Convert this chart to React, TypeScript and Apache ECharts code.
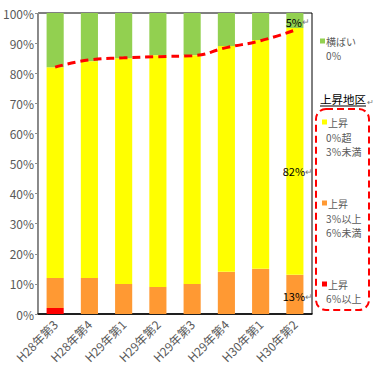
import React, { useEffect, useRef } from "react";
import * as echarts from "echarts";

const categories = ["H28年第3", "H28年第4", "H29年第1", "H29年第2", "H29年第3", "H29年第4", "H30年第1", "H30年第2"];
const up6Plus = [2, 0, 0, 0, 0, 0, 0, 0];
const up3to6 = [10, 12, 10, 9, 10, 14, 15, 13];
const up0to3 = [70, 72, 75, 77, 76, 75, 76, 82];
const flat = [18, 16, 15, 14, 14, 11, 9, 5];
const trendLine = [82, 84.4, 85.1, 85.5, 85.8, 88.5, 90.8, 94.3];
const yTicks = { min: 0, max: 100, interval: 10 };

const FONT = "'Noto Sans CJK JP', 'Noto Sans', sans-serif";
const GRAY = "#595959";

function lastLabel(dy: number) {
  return {
    show: true,
    position: "inside" as const,
    offset: [3, dy],
    formatter: (p: any) => (p.dataIndex === categories.length - 1 ? `{v|${p.value}%}{a|↵}` : ""),
    rich: {
      v: { fontSize: 11, color: "#000", fontFamily: FONT },
      a: { fontSize: 9, color: "#777", fontFamily: FONT },
    },
  };
}

export default function App() {
  const ref = useRef<HTMLDivElement>(null);
  useEffect(() => {
    document.body.style.margin = "0";
    const chart = echarts.init(ref.current!, null, { renderer: "svg" });
    const txt = (x: number, y: number, text: string, extra: any = {}) => ({
      type: "text",
      x,
      y,
      style: { text, fill: GRAY, fontSize: 10, fontFamily: FONT, textVerticalAlign: "middle", ...extra },
    });
    const sq = (x: number, y: number, color: string) => ({
      type: "rect",
      shape: { x, y: y - 2.5, width: 5, height: 5 },
      style: { fill: color },
    });
    chart.setOption({
      animation: false,
      grid: { left: 35, top: 13, right: 69, bottom: 73, show: true, borderColor: "#000", borderWidth: 1, backgroundColor: "transparent" },
      xAxis: {
        type: "category",
        data: categories,
        axisLine: { lineStyle: { color: "#000", width: 1.5 } },
        axisTick: { show: false },
        axisLabel: { rotate: 45, interval: 0, color: GRAY, fontSize: 12, fontFamily: FONT, margin: 8 },
      },
      yAxis: {
        type: "value",
        min: yTicks.min,
        max: yTicks.max,
        interval: yTicks.interval,
        axisLine: { show: true, lineStyle: { color: "#8c8c8c" } },
        axisTick: { show: true, length: 3, lineStyle: { color: "#8c8c8c" } },
        splitLine: { show: false },
        axisLabel: { formatter: "{value}%", color: GRAY, fontSize: 12, fontFamily: FONT, margin: 4 },
      },
      series: [
        { name: "上昇6%以上", type: "bar", stack: "a", barWidth: "50%", data: up6Plus, itemStyle: { color: "#FF0000" } },
        { name: "上昇3%以上6%未満", type: "bar", stack: "a", data: up3to6, itemStyle: { color: "#FF9933" }, label: lastLabel(2) },
        { name: "上昇0%超3%未満", type: "bar", stack: "a", data: up0to3, itemStyle: { color: "#FFFF00" }, label: lastLabel(20) },
        { name: "横ばい", type: "bar", stack: "a", data: flat, itemStyle: { color: "#92D050" }, label: lastLabel(1) },
        {
          name: "trend",
          type: "line",
          data: trendLine,
          smooth: true,
          symbol: "none",
          lineStyle: { color: "#FF0000", width: 3, type: [8, 5] },
          z: 5,
        },
      ],
      graphic: [
        sq(320, 41, "#92D050"),
        txt(326, 41, "横ばい"),
        txt(326, 55, "0％"),
        {
          type: "text",
          x: 320,
          y: 99,
          style: { text: "上昇地区", fill: "#000", fontSize: 11.5, fontFamily: FONT, textVerticalAlign: "middle" },
        },
        {
          type: "line",
          shape: { x1: 320, y1: 106, x2: 366, y2: 106 },
          style: { stroke: "#000", lineWidth: 1 },
        },
        txt(367, 101, "↵", { fontSize: 8, fill: "#777" }),
        {
          type: "rect",
          shape: { x: 316, y: 109, width: 53, height: 201, r: 10 },
          style: { fill: "none", stroke: "#FF0000", lineWidth: 2, lineDash: [7, 4] },
        },
        sq(322, 122, "#FFFF00"),
        txt(328, 122, "上昇"),
        txt(326, 137, "0％超"),
        txt(326, 151, "3％未満"),
        sq(322, 203, "#FF9933"),
        txt(328, 203, "上昇"),
        txt(326, 218, "3％以上"),
        txt(326, 232, "6％未満"),
        sq(322, 284, "#FF0000"),
        txt(328, 284, "上昇"),
        txt(326, 298, "6％以上"),
      ],
    });
    return () => chart.dispose();
  }, []);
  return <div ref={ref} style={{ width: 381, height: 387 }} />;
}
